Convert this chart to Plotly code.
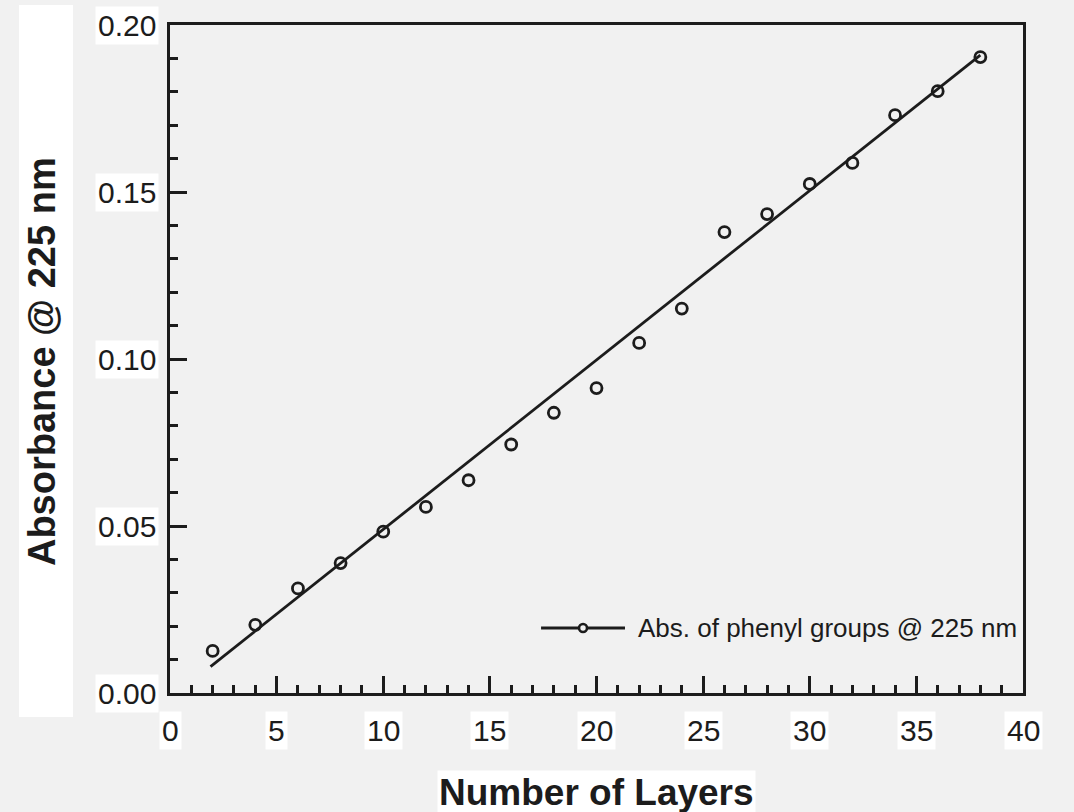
import plotly.graph_objects as go

# ---- data ----
layers = [2, 4, 6, 8, 10, 12, 14, 16, 18, 20, 22, 24, 26, 28, 30, 32, 34, 36, 38]
absorbance = [0.0126, 0.0204, 0.0313, 0.0389, 0.0483, 0.0557, 0.0637, 0.0744, 0.0839,
              0.0913, 0.1048, 0.1151, 0.1380, 0.1434, 0.1524, 0.1587, 0.1730, 0.1802, 0.1904]
fit_x = [1.9, 38]
fit_y = [0.0079, 0.1910]

x_ticks = [0, 5, 10, 15, 20, 25, 30, 35, 40]
x_tick_labels = ["0", "5", "10", "15", "20", "25", "30", "35", "40"]
y_ticks = [0.00, 0.05, 0.10, 0.15, 0.20]
y_tick_labels = ["0.00", "0.05", "0.10", "0.15", "0.20"]

legend_label = "Abs. of phenyl groups @ 225 nm"
x_title = "Number of Layers"
y_title = "Absorbance @ 225 nm"

# ---- style ----
BG = "#f1f1f1"
INK = "#1c1c1c"
FONT = "Liberation Sans, Arial, Helvetica, sans-serif"

fig = go.Figure()
fig.add_trace(go.Scatter(x=fit_x, y=fit_y, mode="lines",
                         line=dict(color=INK, width=2.8), showlegend=False,
                         hoverinfo="skip"))
fig.add_trace(go.Scatter(x=layers, y=absorbance, mode="markers", name=legend_label,
                         marker=dict(symbol="circle-open", size=11, color=INK,
                                     line=dict(width=2.8, color=INK)),
                         showlegend=False))

annotations = []
for v, t in zip(y_ticks, y_tick_labels):
    annotations.append(dict(text=t, x=0, xref="paper", y=v, yref="y", xanchor="right",
                            yanchor="middle", xshift=-11, showarrow=False,
                            bgcolor="white", borderpad=2,
                            font=dict(family=FONT, size=30, color=INK)))
for v, t in zip(x_ticks, x_tick_labels):
    annotations.append(dict(text=t, x=v, xref="x", y=0, yref="paper", xanchor="center",
                            yanchor="top", yshift=-18, showarrow=False,
                            bgcolor="white", borderpad=2,
                            font=dict(family=FONT, size=30, color=INK)))
annotations.append(dict(text="<b>" + x_title + "</b>", x=0.5, xref="paper", y=-0.115,
                        yref="paper", xanchor="center", yanchor="top", showarrow=False,
                        bgcolor="white", borderpad=1,
                        font=dict(family=FONT, size=37, color=INK)))
annotations.append(dict(text="<b>" + y_title + "</b>", x=-0.150, xref="paper", y=0.4955,
                        yref="paper", xanchor="center", yanchor="middle", textangle=-90,
                        showarrow=False,
                        font=dict(family=FONT, size=38, color=INK)))
annotations.append(dict(text=legend_label, x=0.5463, xref="paper", y=0.0973, yref="paper",
                        xanchor="left", yanchor="middle", showarrow=False,
                        font=dict(family=FONT, size=26, color=INK)))

shapes = [
    # white panel behind the y-axis title
    dict(type="rect", xref="paper", yref="paper", x0=-0.177, x1=-0.1137, y0=-0.036, y1=1.03,
         fillcolor="white", line=dict(width=0), layer="below"),
    # legend sample line and marker
    dict(type="line", xref="paper", yref="paper", x0=0.435, x1=0.5334, y0=0.0973, y1=0.0973,
         line=dict(color=INK, width=2.8)),
    dict(type="circle", xref="paper", yref="paper", xsizemode="pixel", ysizemode="pixel",
         xanchor=0.4842, yanchor=0.0973, x0=-4, x1=4, y0=-4, y1=4,
         line=dict(color=INK, width=2.6), fillcolor=BG),
]

fig.update_layout(
    width=1074, height=812,
    margin=dict(l=170, r=51, t=25, b=119),
    paper_bgcolor=BG, plot_bgcolor=BG,
    showlegend=False,
    annotations=annotations, shapes=shapes,
    xaxis=dict(range=[0, 40], showgrid=False, zeroline=False, showticklabels=False,
               showline=True, linecolor=INK, linewidth=3, mirror=True,
               tickmode="array", tickvals=x_ticks, ticks="inside", ticklen=17,
               tickwidth=3, tickcolor=INK,
               minor=dict(dtick=1, ticks="inside", ticklen=8, tickwidth=2.5, tickcolor=INK,
                          showgrid=False)),
    yaxis=dict(range=[0, 0.20], showgrid=False, zeroline=False, showticklabels=False,
               showline=True, linecolor=INK, linewidth=3, mirror=True,
               tickmode="array", tickvals=y_ticks, ticks="inside", ticklen=17,
               tickwidth=3, tickcolor=INK,
               minor=dict(dtick=0.01, ticks="inside", ticklen=8, tickwidth=2.5, tickcolor=INK,
                          showgrid=False)),
)

fig.write_html("out.html")
